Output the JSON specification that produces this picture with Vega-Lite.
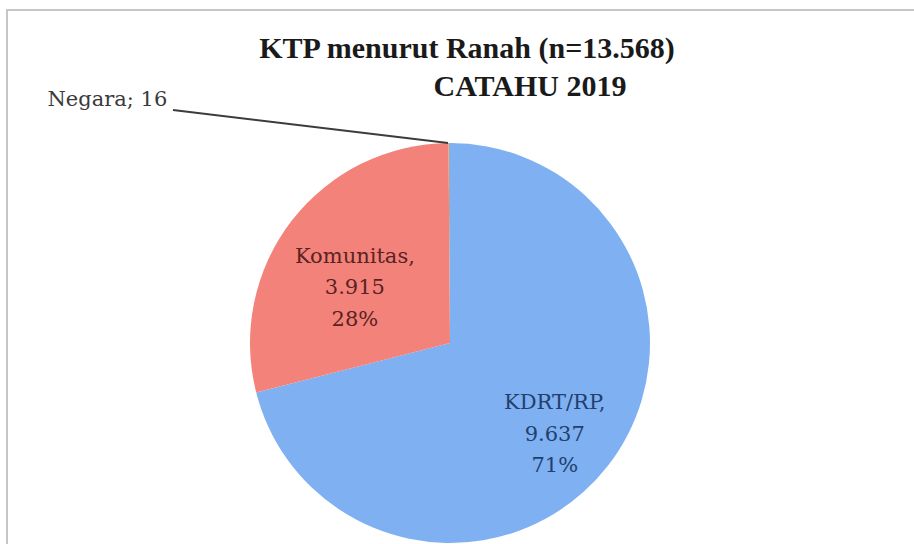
{
  "$schema": "https://vega.github.io/schema/vega-lite/v6.json",
  "width": 800,
  "height": 400,
  "autosize": {"type": "none"},
  "padding": {"left": 50, "top": 143, "right": 64, "bottom": 1},
  "background": "white",
  "config": {"view": {"stroke": null}},
  "datasets": {
    "ranah": [
      {"ranah": "KDRT/RP", "jumlah": 9637, "urut": 1, "label": "KDRT/RP,\n9.637\n71%"},
      {"ranah": "Komunitas", "jumlah": 3915, "urut": 2, "label": "Komunitas,\n3.915\n28%"},
      {"ranah": "Negara", "jumlah": 16, "urut": 3, "label": "Negara; 16"}
    ],
    "judul": [
      {"baris": "KTP menurut Ranah (n=13.568)", "posx": 0.085, "posy": 1.425},
      {"baris": "CATAHU 2019", "posx": 0.4, "posy": 1.235}
    ]
  },
  "layer": [
    {
      "data": {"values": [{}]},
      "mark": {"type": "rect", "fill": null, "stroke": "#c6c6c6", "strokeWidth": 2},
      "encoding": {
        "x": {"datum": -2.215, "type": "quantitative", "scale": {"domain": [-2, 2], "nice": false, "zero": false}, "axis": null},
        "x2": {"datum": 2.5},
        "y": {"datum": 1.665, "type": "quantitative", "scale": {"domain": [-1, 1], "nice": false, "zero": false}, "axis": null},
        "y2": {"datum": -1.2}
      }
    },
    {
      "data": {"name": "ranah"},
      "mark": {"type": "arc", "outerRadius": 200},
      "encoding": {
        "theta": {"field": "jumlah", "type": "quantitative", "stack": true},
        "order": {"field": "urut", "type": "quantitative"},
        "color": {
          "field": "ranah",
          "type": "nominal",
          "scale": {"domain": ["KDRT/RP", "Komunitas", "Negara"], "range": ["#7EB0F2", "#F3827B", "#A9A9A9"]},
          "legend": null
        }
      }
    },
    {
      "data": {"name": "ranah"},
      "mark": {"type": "text", "radius": 139, "dx": -5, "dy": -25, "font": "DejaVu Serif", "fontSize": 21, "lineBreak": "\n", "lineHeight": 31.5, "align": "center", "baseline": "middle", "color": "#22406e"},
      "encoding": {
        "theta": {"field": "jumlah", "type": "quantitative", "stack": true},
        "order": {"field": "urut", "type": "quantitative"},
        "text": {"field": "label", "type": "nominal"},
        "opacity": {"condition": {"test": "datum.ranah === 'KDRT/RP'", "value": 1}, "value": 0}
      }
    },
    {
      "data": {"name": "ranah"},
      "mark": {"type": "text", "radius": 110, "dx": -8, "dy": -19, "font": "DejaVu Serif", "fontSize": 21, "lineBreak": "\n", "lineHeight": 31.5, "align": "center", "baseline": "middle", "color": "#5a2222"},
      "encoding": {
        "theta": {"field": "jumlah", "type": "quantitative", "stack": true},
        "order": {"field": "urut", "type": "quantitative"},
        "text": {"field": "label", "type": "nominal"},
        "opacity": {"condition": {"test": "datum.ranah === 'Komunitas'", "value": 1}, "value": 0}
      }
    },
    {
      "data": {"name": "ranah"},
      "mark": {"type": "text", "radius": 200, "dx": -282, "dy": -37, "font": "DejaVu Serif", "fontSize": 21, "align": "right", "baseline": "alphabetic", "color": "#3a3a3a"},
      "encoding": {
        "theta": {"field": "jumlah", "type": "quantitative", "stack": true},
        "order": {"field": "urut", "type": "quantitative"},
        "text": {"field": "label", "type": "nominal"},
        "opacity": {"condition": {"test": "datum.ranah === 'Negara'", "value": 1}, "value": 0}
      }
    },
    {
      "data": {"values": [{}]},
      "mark": {"type": "rule", "color": "#3c3c3c", "strokeWidth": 2},
      "encoding": {
        "x": {"datum": -1.385, "type": "quantitative", "scale": {"domain": [-2, 2], "nice": false, "zero": false}, "axis": null},
        "x2": {"datum": -0.01},
        "y": {"datum": 1.165, "type": "quantitative", "scale": {"domain": [-1, 1], "nice": false, "zero": false}, "axis": null},
        "y2": {"datum": 1.0}
      }
    },
    {
      "data": {"name": "judul"},
      "mark": {"type": "text", "font": "Liberation Serif", "fontSize": 30, "fontWeight": "bold", "color": "#1a1a1a", "align": "center", "baseline": "alphabetic"},
      "encoding": {
        "x": {"field": "posx", "type": "quantitative", "scale": {"domain": [-2, 2], "nice": false, "zero": false}, "axis": null},
        "y": {"field": "posy", "type": "quantitative", "scale": {"domain": [-1, 1], "nice": false, "zero": false}, "axis": null},
        "text": {"field": "baris", "type": "nominal"}
      }
    }
  ]
}
